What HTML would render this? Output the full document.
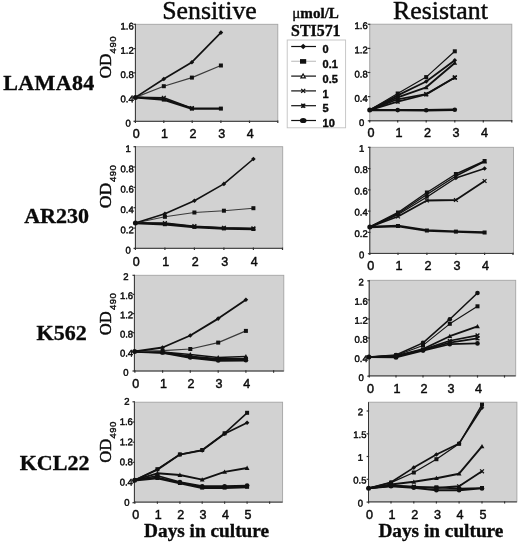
<!DOCTYPE html>
<html><head><meta charset="utf-8"><title>Figure</title>
<style>
html,body{margin:0;padding:0;background:#fff;}
svg{display:block;filter:blur(0.4px)}
.ser{font-family:"Liberation Serif",serif;fill:#0a0a0a;stroke:#0a0a0a;stroke-width:0.45px}
.serb{font-family:"Liberation Serif",serif;font-weight:bold;fill:#0a0a0a;stroke:#0a0a0a;stroke-width:0.35px}
.sans{font-family:"Liberation Sans",sans-serif;fill:#111}
.sansb{font-family:"Liberation Sans",sans-serif;font-weight:bold;fill:#0a0a0a;stroke:#0a0a0a;stroke-width:0.4px}
.yt{font-family:"Liberation Sans",sans-serif;fill:#0a0a0a;stroke:#0a0a0a;stroke-width:0.45px}
.xt{font-family:"Liberation Sans",sans-serif;fill:#0a0a0a;stroke:#0a0a0a;stroke-width:0.45px}
.sub{stroke:#111;stroke-width:0.4px}
</style></head>
<body>
<svg width="520" height="543" viewBox="0 0 520 543">
<rect width="520" height="543" fill="#fff"/>
<rect x="135.4" y="24.3" width="142.4" height="97.0" fill="#d2d2d2" stroke="#a4a4a4" stroke-width="0.9"/>
<path d="M135.4 24.3L135.4 121.3" stroke="#333" stroke-width="1" fill="none"/>
<path d="M134.9 121.3L277.8 121.3" stroke="#333" stroke-width="1" fill="none"/>
<path d="M133.5 24.3L136.0 24.3" stroke="#333" stroke-width="1.2"/>
<text transform="translate(133.8,29.5) rotate(0.05) scale(0.99,1)" text-anchor="end" class="yt" style="font-size:9.6px">1.6</text>
<path d="M133.5 48.6L136.0 48.6" stroke="#333" stroke-width="1.2"/>
<text transform="translate(133.8,53.8) rotate(0.05) scale(0.99,1)" text-anchor="end" class="yt" style="font-size:9.6px">1.2</text>
<path d="M133.5 72.8L136.0 72.8" stroke="#333" stroke-width="1.2"/>
<text transform="translate(133.8,78.0) rotate(0.05) scale(0.99,1)" text-anchor="end" class="yt" style="font-size:9.6px">0.8</text>
<path d="M133.5 97.1L136.0 97.1" stroke="#333" stroke-width="1.2"/>
<text transform="translate(133.8,102.3) rotate(0.05) scale(0.99,1)" text-anchor="end" class="yt" style="font-size:9.6px">0.4</text>
<path d="M133.5 121.3L136.0 121.3" stroke="#333" stroke-width="1.2"/>
<text transform="translate(130.8,126.5) rotate(0.05) scale(0.99,1)" text-anchor="end" class="yt" style="font-size:9.6px">0</text>
<path d="M135.4 120.6L135.4 123.0" stroke="#333" stroke-width="1.2"/>
<text x="136.2" y="137.8" text-anchor="middle" class="xt" style="font-size:12.5px">0</text>
<path d="M163.8 120.6L163.8 123.0" stroke="#333" stroke-width="1.2"/>
<text x="164.6" y="137.8" text-anchor="middle" class="xt" style="font-size:12.5px">1</text>
<path d="M192.2 120.6L192.2 123.0" stroke="#333" stroke-width="1.2"/>
<text x="193.0" y="137.8" text-anchor="middle" class="xt" style="font-size:12.5px">2</text>
<path d="M220.9 120.6L220.9 123.0" stroke="#333" stroke-width="1.2"/>
<text x="221.7" y="137.8" text-anchor="middle" class="xt" style="font-size:12.5px">3</text>
<path d="M249.5 120.6L249.5 123.0" stroke="#333" stroke-width="1.2"/>
<text x="250.3" y="137.8" text-anchor="middle" class="xt" style="font-size:12.5px">4</text>
<path d="M277.8 120.6L277.8 123.0" stroke="#333" stroke-width="1.2"/>
<path d="M135.4 97.4L163.8 99.6L191.9 108.6L220.9 108.6" stroke="#111" stroke-width="2.40" fill="none" stroke-linejoin="round"/>
<rect x="161.8" y="97.6" width="4.0" height="4.0" fill="#111"/>
<rect x="189.9" y="106.6" width="4.0" height="4.0" fill="#111"/>
<rect x="218.9" y="106.6" width="4.0" height="4.0" fill="#111"/>
<path d="M135.4 97.4L163.8 97.8L191.9 108.2" stroke="#111" stroke-width="1.68" fill="none" stroke-linejoin="round"/>
<path d="M161.9 95.9L165.7 99.7M161.9 99.7L165.7 95.9" stroke="#111" stroke-width="1.3" fill="none"/>
<path d="M190.0 106.3L193.8 110.1M190.0 110.1L193.8 106.3" stroke="#111" stroke-width="1.3" fill="none"/>
<path d="M135.4 97.4L163.8 86.2L191.9 77.6L220.9 65.5" stroke="#3a3a3a" stroke-width="1.14" fill="none" stroke-linejoin="round"/>
<rect x="161.8" y="84.2" width="4.0" height="4.0" fill="#111"/>
<rect x="189.9" y="75.6" width="4.0" height="4.0" fill="#111"/>
<rect x="218.9" y="63.5" width="4.0" height="4.0" fill="#111"/>
<path d="M135.4 97.4L163.8 79.0L191.9 62.2L220.9 32.6" stroke="#111" stroke-width="1.68" fill="none" stroke-linejoin="round"/>
<path d="M163.8 76.7L166.1 79.0L163.8 81.3L161.5 79.0Z" fill="#111"/>
<path d="M191.9 59.9L194.2 62.2L191.9 64.5L189.6 62.2Z" fill="#111"/>
<path d="M220.9 30.3L223.2 32.6L220.9 34.9L218.6 32.6Z" fill="#111"/>
<circle cx="135.4" cy="97.4" r="2.5" fill="#111"/>
<rect x="369.7" y="24.2" width="142.1" height="96.6" fill="#d2d2d2" stroke="#a4a4a4" stroke-width="0.9"/>
<path d="M369.7 24.2L369.7 120.8" stroke="#b4b4b4" stroke-width="1" fill="none"/>
<path d="M369.2 120.8L511.8 120.8" stroke="#333" stroke-width="1" fill="none"/>
<path d="M367.8 24.3L370.3 24.3" stroke="#333" stroke-width="1.2"/>
<text transform="translate(367.7,29.0) rotate(0.05) scale(0.99,1)" text-anchor="end" class="yt" style="font-size:9.6px">1.6</text>
<path d="M367.8 48.4L370.3 48.4" stroke="#333" stroke-width="1.2"/>
<text transform="translate(367.7,53.2) rotate(0.05) scale(0.99,1)" text-anchor="end" class="yt" style="font-size:9.6px">1.2</text>
<path d="M367.8 72.5L370.3 72.5" stroke="#333" stroke-width="1.2"/>
<text transform="translate(367.7,77.5) rotate(0.05) scale(0.99,1)" text-anchor="end" class="yt" style="font-size:9.6px">0.8</text>
<path d="M367.8 96.6L370.3 96.6" stroke="#333" stroke-width="1.2"/>
<text transform="translate(367.7,101.7) rotate(0.05) scale(0.99,1)" text-anchor="end" class="yt" style="font-size:9.6px">0.4</text>
<path d="M367.8 120.8L370.3 120.8" stroke="#333" stroke-width="1.2"/>
<text transform="translate(364.3,126.1) rotate(0.05) scale(0.99,1)" text-anchor="end" class="yt" style="font-size:9.6px">0</text>
<path d="M369.7 120.1L369.7 122.5" stroke="#333" stroke-width="1.2"/>
<text x="370.9" y="137.3" text-anchor="middle" class="xt" style="font-size:12.6px">0</text>
<path d="M397.7 120.1L397.7 122.5" stroke="#333" stroke-width="1.2"/>
<text x="398.9" y="137.3" text-anchor="middle" class="xt" style="font-size:12.6px">1</text>
<path d="M426.2 120.1L426.2 122.5" stroke="#333" stroke-width="1.2"/>
<text x="427.4" y="137.3" text-anchor="middle" class="xt" style="font-size:12.6px">2</text>
<path d="M454.8 120.1L454.8 122.5" stroke="#333" stroke-width="1.2"/>
<text x="456.0" y="137.3" text-anchor="middle" class="xt" style="font-size:12.6px">3</text>
<path d="M483.3 120.1L483.3 122.5" stroke="#333" stroke-width="1.2"/>
<text x="484.5" y="137.3" text-anchor="middle" class="xt" style="font-size:12.6px">4</text>
<path d="M511.8 120.1L511.8 122.5" stroke="#333" stroke-width="1.2"/>
<path d="M369.7 110.1L397.7 110.1L426.2 110.3L454.8 109.7" stroke="#111" stroke-width="2.40" fill="none" stroke-linejoin="round"/>
<circle cx="397.7" cy="110.1" r="2.3" fill="#111"/>
<circle cx="426.2" cy="110.3" r="2.3" fill="#111"/>
<circle cx="454.8" cy="109.7" r="2.3" fill="#111"/>
<path d="M369.7 110.1L397.7 101.6L426.2 94.5L454.8 77.6" stroke="#111" stroke-width="1.80" fill="none" stroke-linejoin="round"/>
<path d="M395.8 99.7L399.6 103.5M395.8 103.5L399.6 99.7M397.7 99.7L397.7 103.5" stroke="#111" stroke-width="1.3" fill="none"/>
<path d="M424.3 92.6L428.1 96.4M424.3 96.4L428.1 92.6M426.2 92.6L426.2 96.4" stroke="#111" stroke-width="1.3" fill="none"/>
<path d="M452.9 75.7L456.7 79.5M452.9 79.5L456.7 75.7M454.8 75.7L454.8 79.5" stroke="#111" stroke-width="1.3" fill="none"/>
<path d="M369.7 110.1L397.7 99.3L426.2 94.0L454.8 77.4" stroke="#111" stroke-width="1.68" fill="none" stroke-linejoin="round"/>
<path d="M395.8 97.4L399.6 101.2M395.8 101.2L399.6 97.4" stroke="#111" stroke-width="1.3" fill="none"/>
<path d="M424.3 92.1L428.1 95.9M424.3 95.9L428.1 92.1" stroke="#111" stroke-width="1.3" fill="none"/>
<path d="M452.9 75.5L456.7 79.3M452.9 79.3L456.7 75.5" stroke="#111" stroke-width="1.3" fill="none"/>
<path d="M369.7 110.1L397.7 97.4L426.2 87.3L454.8 62.9" stroke="#111" stroke-width="1.92" fill="none" stroke-linejoin="round"/>
<path d="M397.7 95.0L400.1 99.3L395.3 99.3Z" fill="#111"/>
<path d="M426.2 84.9L428.6 89.2L423.8 89.2Z" fill="#111"/>
<path d="M454.8 60.5L457.2 64.8L452.4 64.8Z" fill="#111"/>
<path d="M369.7 110.1L397.7 95.4L426.2 81.5L454.8 60.2" stroke="#111" stroke-width="1.80" fill="none" stroke-linejoin="round"/>
<path d="M397.7 93.1L400.0 95.4L397.7 97.7L395.4 95.4Z" fill="#111"/>
<path d="M426.2 79.2L428.5 81.5L426.2 83.8L423.9 81.5Z" fill="#111"/>
<path d="M454.8 57.9L457.1 60.2L454.8 62.5L452.5 60.2Z" fill="#111"/>
<path d="M369.7 110.1L397.7 93.5L426.2 77.1L454.8 51.3" stroke="#111" stroke-width="1.20" fill="none" stroke-linejoin="round"/>
<rect x="395.7" y="91.5" width="4.0" height="4.0" fill="#111"/>
<rect x="424.2" y="75.1" width="4.0" height="4.0" fill="#111"/>
<rect x="452.8" y="49.3" width="4.0" height="4.0" fill="#111"/>
<circle cx="369.7" cy="110.1" r="2.5" fill="#111"/>
<rect x="135.4" y="146.7" width="147.3" height="101.6" fill="#d2d2d2" stroke="#a4a4a4" stroke-width="0.9"/>
<path d="M135.4 146.7L135.4 248.3" stroke="#333" stroke-width="1" fill="none"/>
<path d="M134.9 248.3L282.7 248.3" stroke="#333" stroke-width="1" fill="none"/>
<path d="M133.5 146.7L136.0 146.7" stroke="#333" stroke-width="1.2"/>
<text transform="translate(130.8,151.9) rotate(0.05) scale(0.99,1)" text-anchor="end" class="yt" style="font-size:9.6px">1</text>
<path d="M133.5 167.0L136.0 167.0" stroke="#333" stroke-width="1.2"/>
<text transform="translate(133.8,172.2) rotate(0.05) scale(0.99,1)" text-anchor="end" class="yt" style="font-size:9.6px">0.8</text>
<path d="M133.5 187.4L136.0 187.4" stroke="#333" stroke-width="1.2"/>
<text transform="translate(133.8,192.6) rotate(0.05) scale(0.99,1)" text-anchor="end" class="yt" style="font-size:9.6px">0.6</text>
<path d="M133.5 207.7L136.0 207.7" stroke="#333" stroke-width="1.2"/>
<text transform="translate(133.8,212.9) rotate(0.05) scale(0.99,1)" text-anchor="end" class="yt" style="font-size:9.6px">0.4</text>
<path d="M133.5 228.1L136.0 228.1" stroke="#333" stroke-width="1.2"/>
<text transform="translate(133.8,233.3) rotate(0.05) scale(0.99,1)" text-anchor="end" class="yt" style="font-size:9.6px">0.2</text>
<path d="M133.5 248.4L136.0 248.4" stroke="#333" stroke-width="1.2"/>
<text transform="translate(130.8,253.6) rotate(0.05) scale(0.99,1)" text-anchor="end" class="yt" style="font-size:9.6px">0</text>
<path d="M135.4 247.6L135.4 250.0" stroke="#333" stroke-width="1.2"/>
<text x="136.2" y="265.8" text-anchor="middle" class="xt" style="font-size:12.5px">0</text>
<path d="M164.9 247.6L164.9 250.0" stroke="#333" stroke-width="1.2"/>
<text x="165.7" y="265.8" text-anchor="middle" class="xt" style="font-size:12.5px">1</text>
<path d="M194.4 247.6L194.4 250.0" stroke="#333" stroke-width="1.2"/>
<text x="195.2" y="265.8" text-anchor="middle" class="xt" style="font-size:12.5px">2</text>
<path d="M223.9 247.6L223.9 250.0" stroke="#333" stroke-width="1.2"/>
<text x="224.7" y="265.8" text-anchor="middle" class="xt" style="font-size:12.5px">3</text>
<path d="M253.4 247.6L253.4 250.0" stroke="#333" stroke-width="1.2"/>
<text x="254.2" y="265.8" text-anchor="middle" class="xt" style="font-size:12.5px">4</text>
<path d="M282.5 247.6L282.5 250.0" stroke="#333" stroke-width="1.2"/>
<path d="M135.4 223.0L164.9 224.2L194.4 226.9L223.9 228.4L253.4 229.0" stroke="#111" stroke-width="2.52" fill="none" stroke-linejoin="round"/>
<rect x="162.9" y="222.2" width="4.0" height="4.0" fill="#111"/>
<rect x="192.4" y="224.9" width="4.0" height="4.0" fill="#111"/>
<rect x="221.9" y="226.4" width="4.0" height="4.0" fill="#111"/>
<rect x="251.4" y="227.0" width="4.0" height="4.0" fill="#111"/>
<path d="M135.4 223.0L164.9 223.0L194.4 226.2L223.9 227.8L253.4 228.4" stroke="#111" stroke-width="1.44" fill="none" stroke-linejoin="round"/>
<path d="M163.0 221.1L166.8 224.9M163.0 224.9L166.8 221.1" stroke="#111" stroke-width="1.3" fill="none"/>
<path d="M192.5 224.3L196.3 228.1M192.5 228.1L196.3 224.3" stroke="#111" stroke-width="1.3" fill="none"/>
<path d="M222.0 225.9L225.8 229.7M222.0 229.7L225.8 225.9" stroke="#111" stroke-width="1.3" fill="none"/>
<path d="M251.5 226.5L255.3 230.3M251.5 230.3L255.3 226.5" stroke="#111" stroke-width="1.3" fill="none"/>
<path d="M135.4 223.0L164.9 216.8L194.4 212.5L223.9 210.7L253.4 208.2" stroke="#3a3a3a" stroke-width="1.14" fill="none" stroke-linejoin="round"/>
<rect x="162.9" y="214.8" width="4.0" height="4.0" fill="#111"/>
<rect x="192.4" y="210.5" width="4.0" height="4.0" fill="#111"/>
<rect x="221.9" y="208.7" width="4.0" height="4.0" fill="#111"/>
<rect x="251.4" y="206.2" width="4.0" height="4.0" fill="#111"/>
<path d="M135.4 223.0L164.9 213.8L194.4 200.8L223.9 183.9L253.4 159.0" stroke="#111" stroke-width="1.56" fill="none" stroke-linejoin="round"/>
<path d="M164.9 211.5L167.2 213.8L164.9 216.1L162.6 213.8Z" fill="#111"/>
<path d="M194.4 198.5L196.7 200.8L194.4 203.1L192.1 200.8Z" fill="#111"/>
<path d="M223.9 181.6L226.2 183.9L223.9 186.2L221.6 183.9Z" fill="#111"/>
<path d="M253.4 156.7L255.7 159.0L253.4 161.3L251.1 159.0Z" fill="#111"/>
<circle cx="135.4" cy="223.0" r="2.5" fill="#111"/>
<rect x="369.8" y="147.3" width="143.7" height="106.1" fill="#d2d2d2" stroke="#a4a4a4" stroke-width="0.9"/>
<path d="M369.8 147.3L369.8 253.4" stroke="#333" stroke-width="1" fill="none"/>
<path d="M369.3 253.4L513.5 253.4" stroke="#333" stroke-width="1" fill="none"/>
<path d="M367.9 147.3L370.4 147.3" stroke="#333" stroke-width="1.2"/>
<text transform="translate(364.4,151.8) rotate(0.05) scale(0.99,1)" text-anchor="end" class="yt" style="font-size:9.6px">1</text>
<path d="M367.9 168.6L370.4 168.6" stroke="#333" stroke-width="1.2"/>
<text transform="translate(367.8,173.1) rotate(0.05) scale(0.99,1)" text-anchor="end" class="yt" style="font-size:9.6px">0.8</text>
<path d="M367.9 189.9L370.4 189.9" stroke="#333" stroke-width="1.2"/>
<text transform="translate(367.8,194.4) rotate(0.05) scale(0.99,1)" text-anchor="end" class="yt" style="font-size:9.6px">0.6</text>
<path d="M367.9 211.1L370.4 211.1" stroke="#333" stroke-width="1.2"/>
<text transform="translate(367.8,215.6) rotate(0.05) scale(0.99,1)" text-anchor="end" class="yt" style="font-size:9.6px">0.4</text>
<path d="M367.9 232.4L370.4 232.4" stroke="#333" stroke-width="1.2"/>
<text transform="translate(367.8,236.9) rotate(0.05) scale(0.99,1)" text-anchor="end" class="yt" style="font-size:9.6px">0.2</text>
<path d="M367.9 253.7L370.4 253.7" stroke="#333" stroke-width="1.2"/>
<text transform="translate(364.4,258.2) rotate(0.05) scale(0.99,1)" text-anchor="end" class="yt" style="font-size:9.6px">0</text>
<path d="M369.8 252.7L369.8 255.1" stroke="#333" stroke-width="1.2"/>
<text x="370.8" y="270.4" text-anchor="middle" class="xt" style="font-size:12.6px">0</text>
<path d="M398.0 252.7L398.0 255.1" stroke="#333" stroke-width="1.2"/>
<text x="399.0" y="270.4" text-anchor="middle" class="xt" style="font-size:12.6px">1</text>
<path d="M426.9 252.7L426.9 255.1" stroke="#333" stroke-width="1.2"/>
<text x="427.9" y="270.4" text-anchor="middle" class="xt" style="font-size:12.6px">2</text>
<path d="M455.9 252.7L455.9 255.1" stroke="#333" stroke-width="1.2"/>
<text x="456.9" y="270.4" text-anchor="middle" class="xt" style="font-size:12.6px">3</text>
<path d="M484.6 252.7L484.6 255.1" stroke="#333" stroke-width="1.2"/>
<text x="485.6" y="270.4" text-anchor="middle" class="xt" style="font-size:12.6px">4</text>
<path d="M513.0 252.7L513.0 255.1" stroke="#333" stroke-width="1.2"/>
<path d="M369.8 227.0L398.0 226.0L426.9 230.5L455.9 231.6L484.6 232.5" stroke="#111" stroke-width="2.40" fill="none" stroke-linejoin="round"/>
<rect x="396.0" y="224.0" width="4.0" height="4.0" fill="#111"/>
<rect x="424.9" y="228.5" width="4.0" height="4.0" fill="#111"/>
<rect x="453.9" y="229.6" width="4.0" height="4.0" fill="#111"/>
<rect x="482.6" y="230.5" width="4.0" height="4.0" fill="#111"/>
<path d="M484.6 232.5" stroke="#111" stroke-width="1.44" fill="none" stroke-linejoin="round"/>
<path d="M369.8 227.0L398.0 216.5L426.9 200.5L455.9 200.0L484.6 181.0" stroke="#111" stroke-width="1.80" fill="none" stroke-linejoin="round"/>
<path d="M396.1 214.6L399.9 218.4M396.1 218.4L399.9 214.6" stroke="#111" stroke-width="1.3" fill="none"/>
<path d="M425.0 198.6L428.8 202.4M425.0 202.4L428.8 198.6" stroke="#111" stroke-width="1.3" fill="none"/>
<path d="M454.0 198.1L457.8 201.9M454.0 201.9L457.8 198.1" stroke="#111" stroke-width="1.3" fill="none"/>
<path d="M482.7 179.1L486.5 182.9M482.7 182.9L486.5 179.1" stroke="#111" stroke-width="1.3" fill="none"/>
<path d="M369.8 227.0L398.0 214.5L426.9 197.0L455.9 178.0L484.6 168.5" stroke="#111" stroke-width="1.44" fill="none" stroke-linejoin="round"/>
<path d="M398.0 212.2L400.3 214.5L398.0 216.8L395.7 214.5Z" fill="#111"/>
<path d="M426.9 194.7L429.2 197.0L426.9 199.3L424.6 197.0Z" fill="#111"/>
<path d="M455.9 175.7L458.2 178.0L455.9 180.3L453.6 178.0Z" fill="#111"/>
<path d="M484.6 166.2L486.9 168.5L484.6 170.8L482.3 168.5Z" fill="#111"/>
<path d="M369.8 227.0L398.0 213.5L426.9 194.5L455.9 176.0L484.6 161.5" stroke="#111" stroke-width="1.44" fill="none" stroke-linejoin="round"/>
<path d="M398.0 211.1L400.4 215.4L395.6 215.4Z" fill="#111"/>
<path d="M426.9 192.1L429.3 196.4L424.5 196.4Z" fill="#111"/>
<path d="M455.9 173.6L458.3 177.9L453.5 177.9Z" fill="#111"/>
<path d="M484.6 159.1L487.0 163.4L482.2 163.4Z" fill="#111"/>
<path d="M369.8 227.0L398.0 212.5L426.9 192.5L455.9 174.0L484.6 161.0" stroke="#111" stroke-width="1.44" fill="none" stroke-linejoin="round"/>
<rect x="396.0" y="210.5" width="4.0" height="4.0" fill="#111"/>
<rect x="424.9" y="190.5" width="4.0" height="4.0" fill="#111"/>
<rect x="453.9" y="172.0" width="4.0" height="4.0" fill="#111"/>
<rect x="482.6" y="159.0" width="4.0" height="4.0" fill="#111"/>
<circle cx="369.8" cy="227.0" r="2.5" fill="#111"/>
<rect x="134.4" y="275.3" width="149.4" height="95.7" fill="#d2d2d2" stroke="#a4a4a4" stroke-width="0.9"/>
<path d="M134.4 275.3L134.4 371.0" stroke="#333" stroke-width="1" fill="none"/>
<path d="M133.9 371.0L283.8 371.0" stroke="#333" stroke-width="1" fill="none"/>
<path d="M132.5 275.3L135.0 275.3" stroke="#333" stroke-width="1.2"/>
<text transform="translate(128.6,280.0) rotate(0.05) scale(0.99,1)" text-anchor="end" class="yt" style="font-size:9.6px">2</text>
<path d="M132.5 294.4L135.0 294.4" stroke="#333" stroke-width="1.2"/>
<text transform="translate(133.1,299.1) rotate(0.05) scale(0.99,1)" text-anchor="end" class="yt" style="font-size:9.6px">1.6</text>
<path d="M132.5 313.6L135.0 313.6" stroke="#333" stroke-width="1.2"/>
<text transform="translate(133.1,318.3) rotate(0.05) scale(0.99,1)" text-anchor="end" class="yt" style="font-size:9.6px">1.2</text>
<path d="M132.5 332.7L135.0 332.7" stroke="#333" stroke-width="1.2"/>
<text transform="translate(133.1,337.4) rotate(0.05) scale(0.99,1)" text-anchor="end" class="yt" style="font-size:9.6px">0.8</text>
<path d="M132.5 351.9L135.0 351.9" stroke="#333" stroke-width="1.2"/>
<text transform="translate(133.1,356.6) rotate(0.05) scale(0.99,1)" text-anchor="end" class="yt" style="font-size:9.6px">0.4</text>
<path d="M132.5 371.0L135.0 371.0" stroke="#333" stroke-width="1.2"/>
<text transform="translate(128.6,375.7) rotate(0.05) scale(0.99,1)" text-anchor="end" class="yt" style="font-size:9.6px">0</text>
<path d="M134.9 370.3L134.9 372.7" stroke="#333" stroke-width="1.2"/>
<text x="135.7" y="387.7" text-anchor="middle" class="xt" style="font-size:12.5px">0</text>
<path d="M162.6 370.3L162.6 372.7" stroke="#333" stroke-width="1.2"/>
<text x="163.4" y="387.7" text-anchor="middle" class="xt" style="font-size:12.5px">1</text>
<path d="M190.3 370.3L190.3 372.7" stroke="#333" stroke-width="1.2"/>
<text x="191.1" y="387.7" text-anchor="middle" class="xt" style="font-size:12.5px">2</text>
<path d="M218.2 370.3L218.2 372.7" stroke="#333" stroke-width="1.2"/>
<text x="219.0" y="387.7" text-anchor="middle" class="xt" style="font-size:12.5px">3</text>
<path d="M245.9 370.3L245.9 372.7" stroke="#333" stroke-width="1.2"/>
<text x="246.7" y="387.7" text-anchor="middle" class="xt" style="font-size:12.5px">4</text>
<path d="M273.6 370.3L273.6 372.7" stroke="#333" stroke-width="1.2"/>
<path d="M134.6 351.5L162.6 352.5L190.3 357.5L218.2 360.5L245.9 360.2" stroke="#111" stroke-width="2.64" fill="none" stroke-linejoin="round"/>
<circle cx="162.6" cy="352.5" r="2.3" fill="#111"/>
<circle cx="190.3" cy="357.5" r="2.3" fill="#111"/>
<circle cx="218.2" cy="360.5" r="2.3" fill="#111"/>
<circle cx="245.9" cy="360.2" r="2.3" fill="#111"/>
<path d="M134.6 351.5L162.6 352.5L190.3 356.5L218.2 359.0L245.9 358.8" stroke="#111" stroke-width="1.80" fill="none" stroke-linejoin="round"/>
<rect x="160.6" y="350.5" width="4.0" height="4.0" fill="#111"/>
<rect x="188.3" y="354.5" width="4.0" height="4.0" fill="#111"/>
<rect x="216.2" y="357.0" width="4.0" height="4.0" fill="#111"/>
<rect x="243.9" y="356.8" width="4.0" height="4.0" fill="#111"/>
<path d="M134.6 351.5L162.6 352.0L190.3 354.5L218.2 357.5L245.9 356.5" stroke="#111" stroke-width="1.44" fill="none" stroke-linejoin="round"/>
<path d="M162.6 349.6L165.0 353.9L160.2 353.9Z" fill="#111"/>
<path d="M190.3 352.1L192.7 356.4L187.9 356.4Z" fill="#111"/>
<path d="M218.2 355.1L220.6 359.4L215.8 359.4Z" fill="#111"/>
<path d="M245.9 354.1L248.3 358.4L243.5 358.4Z" fill="#111"/>
<path d="M134.6 351.5L162.6 350.6L190.3 349.0L218.2 342.6L245.9 330.9" stroke="#3a3a3a" stroke-width="1.14" fill="none" stroke-linejoin="round"/>
<rect x="160.6" y="348.6" width="4.0" height="4.0" fill="#111"/>
<rect x="188.3" y="347.0" width="4.0" height="4.0" fill="#111"/>
<rect x="216.2" y="340.6" width="4.0" height="4.0" fill="#111"/>
<rect x="243.9" y="328.9" width="4.0" height="4.0" fill="#111"/>
<path d="M134.6 351.5L162.6 347.5L190.3 335.5L218.2 318.6L245.9 299.8" stroke="#111" stroke-width="1.86" fill="none" stroke-linejoin="round"/>
<path d="M162.6 345.2L164.9 347.5L162.6 349.8L160.3 347.5Z" fill="#111"/>
<path d="M190.3 333.2L192.6 335.5L190.3 337.8L188.0 335.5Z" fill="#111"/>
<path d="M218.2 316.3L220.5 318.6L218.2 320.9L215.9 318.6Z" fill="#111"/>
<path d="M245.9 297.5L248.2 299.8L245.9 302.1L243.6 299.8Z" fill="#111"/>
<circle cx="134.6" cy="351.5" r="2.5" fill="#111"/>
<rect x="369.2" y="280.3" width="146.5" height="95.6" fill="#d2d2d2" stroke="#a4a4a4" stroke-width="0.9"/>
<path d="M369.2 280.3L369.2 375.9" stroke="#333" stroke-width="1" fill="none"/>
<path d="M368.7 375.9L515.7 375.9" stroke="#333" stroke-width="1" fill="none"/>
<path d="M367.3 280.8L369.8 280.8" stroke="#333" stroke-width="1.2"/>
<text transform="translate(363.8,285.6) rotate(0.05) scale(0.99,1)" text-anchor="end" class="yt" style="font-size:9.6px">2</text>
<path d="M367.3 299.9L369.8 299.9" stroke="#333" stroke-width="1.2"/>
<text transform="translate(367.8,304.7) rotate(0.05) scale(0.99,1)" text-anchor="end" class="yt" style="font-size:9.6px">1.6</text>
<path d="M367.3 319.0L369.8 319.0" stroke="#333" stroke-width="1.2"/>
<text transform="translate(367.8,323.8) rotate(0.05) scale(0.99,1)" text-anchor="end" class="yt" style="font-size:9.6px">1.2</text>
<path d="M367.3 338.0L369.8 338.0" stroke="#333" stroke-width="1.2"/>
<text transform="translate(367.8,342.8) rotate(0.05) scale(0.99,1)" text-anchor="end" class="yt" style="font-size:9.6px">0.8</text>
<path d="M367.3 357.1L369.8 357.1" stroke="#333" stroke-width="1.2"/>
<text transform="translate(367.8,361.9) rotate(0.05) scale(0.99,1)" text-anchor="end" class="yt" style="font-size:9.6px">0.4</text>
<path d="M367.3 376.2L369.8 376.2" stroke="#333" stroke-width="1.2"/>
<text transform="translate(363.8,381.0) rotate(0.05) scale(0.99,1)" text-anchor="end" class="yt" style="font-size:9.6px">0</text>
<path d="M369.3 375.2L369.3 377.6" stroke="#333" stroke-width="1.2"/>
<text x="370.4" y="392.6" text-anchor="middle" class="xt" style="font-size:12.6px">0</text>
<path d="M396.0 375.2L396.0 377.6" stroke="#333" stroke-width="1.2"/>
<text x="397.1" y="392.6" text-anchor="middle" class="xt" style="font-size:12.6px">1</text>
<path d="M423.0 375.2L423.0 377.6" stroke="#333" stroke-width="1.2"/>
<text x="424.1" y="392.6" text-anchor="middle" class="xt" style="font-size:12.6px">2</text>
<path d="M449.8 375.2L449.8 377.6" stroke="#333" stroke-width="1.2"/>
<text x="450.9" y="392.6" text-anchor="middle" class="xt" style="font-size:12.6px">3</text>
<path d="M477.5 375.2L477.5 377.6" stroke="#333" stroke-width="1.2"/>
<text x="478.6" y="392.6" text-anchor="middle" class="xt" style="font-size:12.6px">4</text>
<path d="M504.5 375.2L504.5 377.6" stroke="#333" stroke-width="1.2"/>
<path d="M368.9 357.1L396.0 357.5L423.0 350.6L449.8 344.2L477.5 343.4" stroke="#111" stroke-width="1.68" fill="none" stroke-linejoin="round"/>
<circle cx="396.0" cy="357.5" r="2.3" fill="#111"/>
<circle cx="423.0" cy="350.6" r="2.3" fill="#111"/>
<circle cx="449.8" cy="344.2" r="2.3" fill="#111"/>
<circle cx="477.5" cy="343.4" r="2.3" fill="#111"/>
<path d="M368.9 357.1L396.0 356.8L423.0 350.0L449.8 342.6L477.5 338.4" stroke="#111" stroke-width="1.68" fill="none" stroke-linejoin="round"/>
<path d="M394.1 354.9L397.9 358.7M394.1 358.7L397.9 354.9M396.0 354.9L396.0 358.7" stroke="#111" stroke-width="1.3" fill="none"/>
<path d="M421.1 348.1L424.9 351.9M421.1 351.9L424.9 348.1M423.0 348.1L423.0 351.9" stroke="#111" stroke-width="1.3" fill="none"/>
<path d="M447.9 340.7L451.7 344.5M447.9 344.5L451.7 340.7M449.8 340.7L449.8 344.5" stroke="#111" stroke-width="1.3" fill="none"/>
<path d="M475.6 336.5L479.4 340.3M475.6 340.3L479.4 336.5M477.5 336.5L477.5 340.3" stroke="#111" stroke-width="1.3" fill="none"/>
<path d="M368.9 357.1L396.0 356.2L423.0 349.6L449.8 340.8L477.5 335.4" stroke="#111" stroke-width="1.68" fill="none" stroke-linejoin="round"/>
<path d="M394.1 354.3L397.9 358.1M394.1 358.1L397.9 354.3" stroke="#111" stroke-width="1.3" fill="none"/>
<path d="M421.1 347.7L424.9 351.5M421.1 351.5L424.9 347.7" stroke="#111" stroke-width="1.3" fill="none"/>
<path d="M447.9 338.9L451.7 342.7M447.9 342.7L451.7 338.9" stroke="#111" stroke-width="1.3" fill="none"/>
<path d="M475.6 333.5L479.4 337.3M475.6 337.3L479.4 333.5" stroke="#111" stroke-width="1.3" fill="none"/>
<path d="M368.9 357.1L396.0 355.8L423.0 349.0L449.8 336.2L477.5 326.3" stroke="#111" stroke-width="1.80" fill="none" stroke-linejoin="round"/>
<path d="M396.0 353.4L398.4 357.7L393.6 357.7Z" fill="#111"/>
<path d="M423.0 346.6L425.4 350.9L420.6 350.9Z" fill="#111"/>
<path d="M449.8 333.8L452.2 338.1L447.4 338.1Z" fill="#111"/>
<path d="M477.5 323.9L479.9 328.2L475.1 328.2Z" fill="#111"/>
<path d="M368.9 357.1L396.0 355.4L423.0 345.4L449.8 323.8L477.5 306.3" stroke="#111" stroke-width="1.08" fill="none" stroke-linejoin="round"/>
<rect x="394.0" y="353.4" width="4.0" height="4.0" fill="#111"/>
<rect x="421.0" y="343.4" width="4.0" height="4.0" fill="#111"/>
<rect x="447.8" y="321.8" width="4.0" height="4.0" fill="#111"/>
<rect x="475.5" y="304.3" width="4.0" height="4.0" fill="#111"/>
<path d="M368.9 357.1L396.0 355.0L423.0 342.9L449.8 319.2L477.5 293.0" stroke="#111" stroke-width="1.56" fill="none" stroke-linejoin="round"/>
<circle cx="396.0" cy="355.0" r="2.3" fill="#111"/>
<circle cx="423.0" cy="342.9" r="2.3" fill="#111"/>
<circle cx="449.8" cy="319.2" r="2.3" fill="#111"/>
<circle cx="477.5" cy="293.0" r="2.3" fill="#111"/>
<circle cx="368.9" cy="357.1" r="2.5" fill="#111"/>
<rect x="134.4" y="402.2" width="148.2" height="99.9" fill="#d2d2d2" stroke="#a4a4a4" stroke-width="0.9"/>
<path d="M134.4 402.2L134.4 502.1" stroke="#333" stroke-width="1" fill="none"/>
<path d="M133.9 502.1L282.6 502.1" stroke="#333" stroke-width="1" fill="none"/>
<path d="M132.5 401.8L135.0 401.8" stroke="#333" stroke-width="1.2"/>
<text transform="translate(129.5,404.8) rotate(0.05) scale(0.99,1)" text-anchor="end" class="yt" style="font-size:9.6px">2</text>
<path d="M132.5 422.0L135.0 422.0" stroke="#333" stroke-width="1.2"/>
<text transform="translate(132.9,425.0) rotate(0.05) scale(0.99,1)" text-anchor="end" class="yt" style="font-size:9.6px">1.6</text>
<path d="M132.5 442.2L135.0 442.2" stroke="#333" stroke-width="1.2"/>
<text transform="translate(132.9,445.2) rotate(0.05) scale(0.99,1)" text-anchor="end" class="yt" style="font-size:9.6px">1.2</text>
<path d="M132.5 462.3L135.0 462.3" stroke="#333" stroke-width="1.2"/>
<text transform="translate(132.9,465.3) rotate(0.05) scale(0.99,1)" text-anchor="end" class="yt" style="font-size:9.6px">0.8</text>
<path d="M132.5 482.5L135.0 482.5" stroke="#333" stroke-width="1.2"/>
<text transform="translate(132.9,485.5) rotate(0.05) scale(0.99,1)" text-anchor="end" class="yt" style="font-size:9.6px">0.4</text>
<path d="M132.5 502.7L135.0 502.7" stroke="#333" stroke-width="1.2"/>
<text transform="translate(129.5,505.7) rotate(0.05) scale(0.99,1)" text-anchor="end" class="yt" style="font-size:9.6px">0</text>
<path d="M134.9 501.4L134.9 503.8" stroke="#333" stroke-width="1.2"/>
<text x="135.7" y="519.0" text-anchor="middle" class="xt" style="font-size:12.5px">0</text>
<path d="M157.4 501.4L157.4 503.8" stroke="#333" stroke-width="1.2"/>
<text x="158.2" y="519.0" text-anchor="middle" class="xt" style="font-size:12.5px">1</text>
<path d="M179.9 501.4L179.9 503.8" stroke="#333" stroke-width="1.2"/>
<text x="180.7" y="519.0" text-anchor="middle" class="xt" style="font-size:12.5px">2</text>
<path d="M202.2 501.4L202.2 503.8" stroke="#333" stroke-width="1.2"/>
<text x="203.0" y="519.0" text-anchor="middle" class="xt" style="font-size:12.5px">3</text>
<path d="M224.6 501.4L224.6 503.8" stroke="#333" stroke-width="1.2"/>
<text x="225.4" y="519.0" text-anchor="middle" class="xt" style="font-size:12.5px">4</text>
<path d="M247.1 501.4L247.1 503.8" stroke="#333" stroke-width="1.2"/>
<text x="247.9" y="519.0" text-anchor="middle" class="xt" style="font-size:12.5px">5</text>
<path d="M269.6 501.4L269.6 503.8" stroke="#333" stroke-width="1.2"/>
<path d="M134.6 480.2L157.4 478.0L179.9 483.0L202.2 487.6L224.6 487.6L247.1 486.8" stroke="#111" stroke-width="2.76" fill="none" stroke-linejoin="round"/>
<rect x="155.4" y="476.0" width="4.0" height="4.0" fill="#111"/>
<rect x="177.9" y="481.0" width="4.0" height="4.0" fill="#111"/>
<rect x="200.2" y="485.6" width="4.0" height="4.0" fill="#111"/>
<rect x="222.6" y="485.6" width="4.0" height="4.0" fill="#111"/>
<rect x="245.1" y="484.8" width="4.0" height="4.0" fill="#111"/>
<path d="M134.6 480.2L157.4 475.8L179.9 482.0L202.2 486.2L224.6 486.2L247.1 485.5" stroke="#111" stroke-width="1.68" fill="none" stroke-linejoin="round"/>
<circle cx="157.4" cy="475.8" r="2.3" fill="#111"/>
<circle cx="179.9" cy="482.0" r="2.3" fill="#111"/>
<circle cx="202.2" cy="486.2" r="2.3" fill="#111"/>
<circle cx="224.6" cy="486.2" r="2.3" fill="#111"/>
<circle cx="247.1" cy="485.5" r="2.3" fill="#111"/>
<path d="M134.6 480.2L157.4 473.3L179.9 475.0L202.2 479.6L224.6 471.9L247.1 468.0" stroke="#111" stroke-width="1.92" fill="none" stroke-linejoin="round"/>
<path d="M157.4 470.9L159.8 475.2L155.0 475.2Z" fill="#111"/>
<path d="M179.9 472.6L182.3 476.9L177.5 476.9Z" fill="#111"/>
<path d="M202.2 477.2L204.6 481.5L199.8 481.5Z" fill="#111"/>
<path d="M224.6 469.5L227.0 473.8L222.2 473.8Z" fill="#111"/>
<path d="M247.1 465.6L249.5 469.9L244.7 469.9Z" fill="#111"/>
<path d="M134.6 480.2L157.4 469.8L179.9 454.6L202.2 450.4L224.6 433.7L247.1 422.7" stroke="#111" stroke-width="1.80" fill="none" stroke-linejoin="round"/>
<path d="M157.4 467.5L159.7 469.8L157.4 472.1L155.1 469.8Z" fill="#111"/>
<path d="M179.9 452.3L182.2 454.6L179.9 456.9L177.6 454.6Z" fill="#111"/>
<path d="M202.2 448.1L204.5 450.4L202.2 452.7L199.9 450.4Z" fill="#111"/>
<path d="M224.6 431.4L226.9 433.7L224.6 436.0L222.3 433.7Z" fill="#111"/>
<path d="M247.1 420.4L249.4 422.7L247.1 425.0L244.8 422.7Z" fill="#111"/>
<path d="M134.6 480.2L157.4 469.2L179.9 454.4L202.2 450.0L224.6 433.3L247.1 412.8" stroke="#111" stroke-width="1.56" fill="none" stroke-linejoin="round"/>
<rect x="155.4" y="467.2" width="4.0" height="4.0" fill="#111"/>
<rect x="177.9" y="452.4" width="4.0" height="4.0" fill="#111"/>
<rect x="200.2" y="448.0" width="4.0" height="4.0" fill="#111"/>
<rect x="222.6" y="431.3" width="4.0" height="4.0" fill="#111"/>
<rect x="245.1" y="410.8" width="4.0" height="4.0" fill="#111"/>
<circle cx="134.6" cy="480.2" r="2.5" fill="#111"/>
<rect x="368.5" y="402.2" width="148.4" height="99.7" fill="#d2d2d2" stroke="#a4a4a4" stroke-width="0.9"/>
<path d="M368.5 402.2L368.5 501.9" stroke="#333" stroke-width="1" fill="none"/>
<path d="M368.0 501.9L516.9 501.9" stroke="#333" stroke-width="1" fill="none"/>
<path d="M366.6 411.0L369.1 411.0" stroke="#333" stroke-width="1.2"/>
<text transform="translate(363.1,415.3) rotate(0.05) scale(0.99,1)" text-anchor="end" class="yt" style="font-size:9.6px">2</text>
<path d="M366.6 433.8L369.1 433.8" stroke="#333" stroke-width="1.2"/>
<text transform="translate(366.5,438.1) rotate(0.05) scale(0.99,1)" text-anchor="end" class="yt" style="font-size:9.6px">1.5</text>
<path d="M366.6 456.5L369.1 456.5" stroke="#333" stroke-width="1.2"/>
<text transform="translate(363.1,460.8) rotate(0.05) scale(0.99,1)" text-anchor="end" class="yt" style="font-size:9.6px">1</text>
<path d="M366.6 479.3L369.1 479.3" stroke="#333" stroke-width="1.2"/>
<text transform="translate(366.5,483.6) rotate(0.05) scale(0.99,1)" text-anchor="end" class="yt" style="font-size:9.6px">0.5</text>
<path d="M366.6 502.1L369.1 502.1" stroke="#333" stroke-width="1.2"/>
<text transform="translate(363.1,506.4) rotate(0.05) scale(0.99,1)" text-anchor="end" class="yt" style="font-size:9.6px">0</text>
<path d="M368.6 501.2L368.6 503.6" stroke="#333" stroke-width="1.2"/>
<text x="369.6" y="519.2" text-anchor="middle" class="xt" style="font-size:12.6px">0</text>
<path d="M391.0 501.2L391.0 503.6" stroke="#333" stroke-width="1.2"/>
<text x="392.0" y="519.2" text-anchor="middle" class="xt" style="font-size:12.6px">1</text>
<path d="M413.8 501.2L413.8 503.6" stroke="#333" stroke-width="1.2"/>
<text x="414.8" y="519.2" text-anchor="middle" class="xt" style="font-size:12.6px">2</text>
<path d="M436.4 501.2L436.4 503.6" stroke="#333" stroke-width="1.2"/>
<text x="437.4" y="519.2" text-anchor="middle" class="xt" style="font-size:12.6px">3</text>
<path d="M459.1 501.2L459.1 503.6" stroke="#333" stroke-width="1.2"/>
<text x="460.1" y="519.2" text-anchor="middle" class="xt" style="font-size:12.6px">4</text>
<path d="M482.0 501.2L482.0 503.6" stroke="#333" stroke-width="1.2"/>
<text x="483.0" y="519.2" text-anchor="middle" class="xt" style="font-size:12.6px">5</text>
<path d="M504.6 501.2L504.6 503.6" stroke="#333" stroke-width="1.2"/>
<path d="M368.6 488.2L391.0 486.2L413.8 487.8L436.4 490.3L459.1 490.2L482.0 488.4" stroke="#111" stroke-width="1.92" fill="none" stroke-linejoin="round"/>
<circle cx="391.0" cy="486.2" r="2.3" fill="#111"/>
<circle cx="413.8" cy="487.8" r="2.3" fill="#111"/>
<circle cx="436.4" cy="490.3" r="2.3" fill="#111"/>
<circle cx="459.1" cy="490.2" r="2.3" fill="#111"/>
<circle cx="482.0" cy="488.4" r="2.3" fill="#111"/>
<path d="M368.6 488.2L391.0 485.8L413.8 487.0L436.4 487.3L459.1 488.6L482.0 488.0" stroke="#111" stroke-width="1.68" fill="none" stroke-linejoin="round"/>
<rect x="389.0" y="483.8" width="4.0" height="4.0" fill="#111"/>
<rect x="411.8" y="485.0" width="4.0" height="4.0" fill="#111"/>
<rect x="434.4" y="485.3" width="4.0" height="4.0" fill="#111"/>
<rect x="457.1" y="486.6" width="4.0" height="4.0" fill="#111"/>
<rect x="480.0" y="486.0" width="4.0" height="4.0" fill="#111"/>
<path d="M368.6 488.2L391.0 485.5L413.8 486.6L436.4 488.0L459.1 486.3L482.0 471.3" stroke="#111" stroke-width="1.92" fill="none" stroke-linejoin="round"/>
<path d="M389.1 483.6L392.9 487.4M389.1 487.4L392.9 483.6" stroke="#111" stroke-width="1.3" fill="none"/>
<path d="M411.9 484.7L415.7 488.5M411.9 488.5L415.7 484.7" stroke="#111" stroke-width="1.3" fill="none"/>
<path d="M434.5 486.1L438.3 489.9M434.5 489.9L438.3 486.1" stroke="#111" stroke-width="1.3" fill="none"/>
<path d="M457.2 484.4L461.0 488.2M457.2 488.2L461.0 484.4" stroke="#111" stroke-width="1.3" fill="none"/>
<path d="M480.1 469.4L483.9 473.2M480.1 473.2L483.9 469.4" stroke="#111" stroke-width="1.3" fill="none"/>
<path d="M368.6 488.2L391.0 484.5L413.8 481.8L436.4 478.2L459.1 473.7L482.0 446.3" stroke="#111" stroke-width="1.92" fill="none" stroke-linejoin="round"/>
<path d="M391.0 482.1L393.4 486.4L388.6 486.4Z" fill="#111"/>
<path d="M413.8 479.4L416.2 483.7L411.4 483.7Z" fill="#111"/>
<path d="M436.4 475.8L438.8 480.1L434.0 480.1Z" fill="#111"/>
<path d="M459.1 471.3L461.5 475.6L456.7 475.6Z" fill="#111"/>
<path d="M482.0 443.9L484.4 448.2L479.6 448.2Z" fill="#111"/>
<path d="M368.6 488.2L391.0 482.6L413.8 472.5L436.4 459.2L459.1 443.8L482.0 404.6" stroke="#111" stroke-width="1.32" fill="none" stroke-linejoin="round"/>
<rect x="389.0" y="480.6" width="4.0" height="4.0" fill="#111"/>
<rect x="411.8" y="470.5" width="4.0" height="4.0" fill="#111"/>
<rect x="434.4" y="457.2" width="4.0" height="4.0" fill="#111"/>
<rect x="457.1" y="441.8" width="4.0" height="4.0" fill="#111"/>
<rect x="480.0" y="402.6" width="4.0" height="4.0" fill="#111"/>
<path d="M368.6 488.2L391.0 482.2L413.8 467.6L436.4 454.5L459.1 443.4L482.0 407.8" stroke="#111" stroke-width="1.68" fill="none" stroke-linejoin="round"/>
<path d="M391.0 479.9L393.3 482.2L391.0 484.5L388.7 482.2Z" fill="#111"/>
<path d="M413.8 465.3L416.1 467.6L413.8 469.9L411.5 467.6Z" fill="#111"/>
<path d="M436.4 452.2L438.7 454.5L436.4 456.8L434.1 454.5Z" fill="#111"/>
<path d="M459.1 441.1L461.4 443.4L459.1 445.7L456.8 443.4Z" fill="#111"/>
<path d="M482.0 405.5L484.3 407.8L482.0 410.1L479.7 407.8Z" fill="#111"/>
<circle cx="368.6" cy="488.2" r="2.5" fill="#111"/>
<text x="209.5" y="19.0" text-anchor="middle" class="ser" style="font-size:25.8px">Sensitive</text>
<text x="440.4" y="18.7" text-anchor="middle" class="ser" style="font-size:25.9px">Resistant</text>
<text x="49.0" y="89.9" text-anchor="middle" class="serb" style="font-size:22px;letter-spacing:0.35px">LAMA84</text>
<text x="56.6" y="223.0" text-anchor="middle" class="serb" style="font-size:22px">AR230</text>
<text x="61.6" y="339.6" text-anchor="middle" class="serb" style="font-size:22px">K562</text>
<text x="54.6" y="470.0" text-anchor="middle" class="serb" style="font-size:22px">KCL22</text>
<text transform="translate(111.3,78.6) rotate(-90) scale(1.018,1)" text-anchor="start" class="ser" style="font-size:17px">OD</text>
<text transform="translate(115.9,53.4) rotate(-90)" text-anchor="start" class="sans sub" style="font-size:9.6px;letter-spacing:0.45px">490</text>
<text transform="translate(111.3,208.3) rotate(-90) scale(1.038,1)" text-anchor="start" class="ser" style="font-size:17px">OD</text>
<text transform="translate(115.9,182.0) rotate(-90)" text-anchor="start" class="sans sub" style="font-size:9.6px;letter-spacing:0.45px">490</text>
<text transform="translate(111.3,335.3) rotate(-90) scale(0.976,1)" text-anchor="start" class="ser" style="font-size:17px">OD</text>
<text transform="translate(115.9,310.0) rotate(-90)" text-anchor="start" class="sans sub" style="font-size:9.6px;letter-spacing:0.45px">490</text>
<text transform="translate(111.3,462.8) rotate(-90) scale(0.976,1)" text-anchor="start" class="ser" style="font-size:17px">OD</text>
<text transform="translate(115.9,438.6) rotate(-90)" text-anchor="start" class="sans sub" style="font-size:9.6px;letter-spacing:0.45px">490</text>
<text x="206.6" y="536.8" text-anchor="middle" class="serb" style="font-size:19.3px">Days in culture</text>
<text x="440.9" y="536.6" text-anchor="middle" class="serb" style="font-size:19.3px">Days in culture</text>
<text x="315.6" y="18.0" text-anchor="middle" class="serb" style="font-size:15.1px"><tspan style="font-weight:normal">μ</tspan>mol/L</text>
<text x="315.8" y="35.6" text-anchor="middle" class="serb" style="font-size:15.9px">STI571</text>
<rect x="287.2" y="40.0" width="58.4" height="87.8" fill="#fff" stroke="#c2c2c2" stroke-width="0.9"/>
<path d="M291.2 46.5L316 46.5" stroke="#111" stroke-width="1.2"/>
<path d="M303.2 43.7L306.0 46.5L303.2 49.3L300.4 46.5Z" fill="#111"/>
<text x="322.6" y="53.2" class="sansb" style="font-size:11px">0</text>
<path d="M291.2 61.3L316 61.3" stroke="#c4c4c4" stroke-width="1.2"/>
<rect x="300.0" y="59.1" width="6.2" height="4.6" fill="#111"/>
<text x="322.6" y="68.0" class="sansb" style="font-size:11px">0.1</text>
<path d="M291.2 76.1L316 76.1" stroke="#111" stroke-width="1.2"/>
<path d="M303.1 74.0L305.3 77.8L300.9 77.8Z" fill="#fff" stroke="#111" stroke-width="1.2"/>
<text x="322.6" y="82.8" class="sansb" style="font-size:11px">0.5</text>
<path d="M291.2 90.9L316 90.9" stroke="#111" stroke-width="1.2"/>
<path d="M301.2 88.9L305.2 92.9M301.2 92.9L305.2 88.9" stroke="#111" stroke-width="1.3" fill="none"/>
<text x="322.6" y="97.6" class="sansb" style="font-size:11px">1</text>
<path d="M291.2 105.7L316 105.7" stroke="#111" stroke-width="1.2"/>
<path d="M301.2 103.7L305.2 107.7M301.2 107.7L305.2 103.7M303.2 103.7L303.2 107.7" stroke="#111" stroke-width="1.3" fill="none"/>
<text x="322.6" y="112.4" class="sansb" style="font-size:11px">5</text>
<path d="M291.2 120.5L316 120.5" stroke="#111" stroke-width="1.2"/>
<ellipse cx="303.2" cy="120.5" rx="3.3" ry="2.6" fill="#111"/>
<text x="322.6" y="127.2" class="sansb" style="font-size:11px">10</text>
</svg>
</body></html>
